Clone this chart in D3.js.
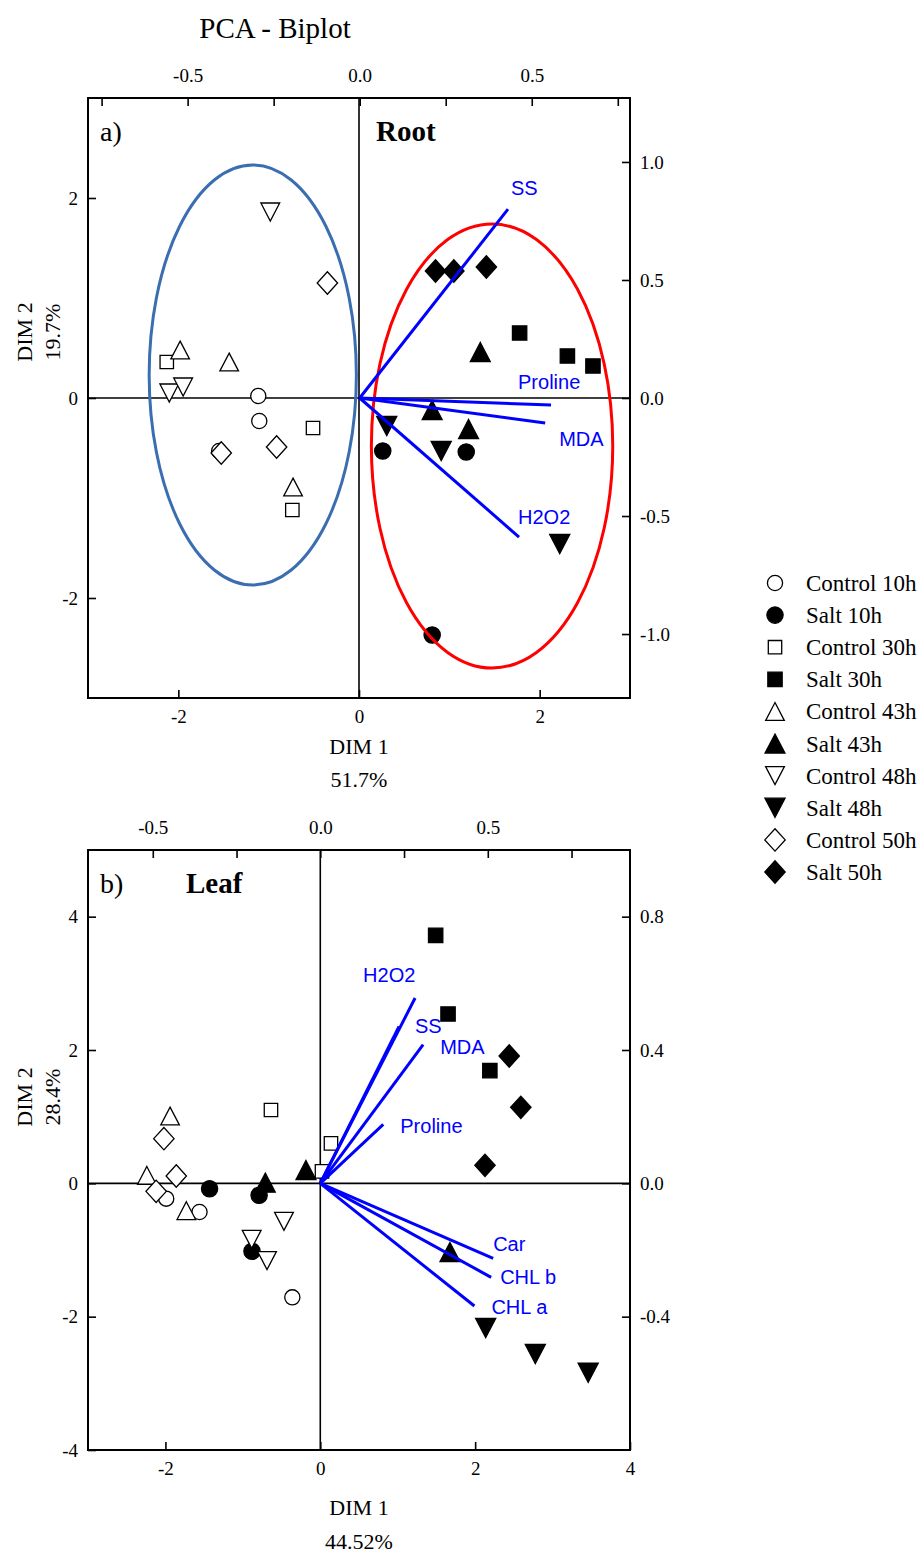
<!DOCTYPE html>
<html>
<head>
<meta charset="utf-8">
<script src="https://cdn.jsdelivr.net/npm/d3@7"></script>
<style>
  body { margin: 0; background: #fff; }
  svg { display: block; }
</style>
</head>
<body>
<svg id="chart" width="921" height="1554"></svg>
<script>
// ---- Groups (legend order) ----
const groupNames = ["Control 10h", "Salt 10h", "Control 30h", "Salt 30h", "Control 43h",
                    "Salt 43h", "Control 48h", "Salt 48h", "Control 50h", "Salt 50h"];
const groupShapes = ["circle", "circle", "square", "square", "triangle",
                     "triangle", "triangleDown", "triangleDown", "diamond", "diamond"];
const groupFilled = [false, true, false, true, false, true, false, true, false, true];

// ---- Root PCA scores: three replicates per group, in legend order ----
const rootDim1 = [
  -1.115, -1.104, -1.548,   0.263, 1.187, 0.810,
  -2.128, -0.509, -0.738,   1.778, 2.307, 2.590,
  -1.980, -1.437, -0.730,   1.343, 0.810, 1.213,
  -0.982, -2.100, -1.947,   0.307, 0.910, 2.222,
  -0.350, -1.525, -0.912,   0.847, 1.050, 1.410
];
const rootDim2 = [
   0.02, -0.23, -0.53,  -0.53, -0.54, -2.37,
   0.36, -0.30, -1.12,   0.65,  0.42,  0.32,
   0.48,  0.36, -0.89,   0.46, -0.12, -0.31,
   1.86,  0.05,  0.11,  -0.28, -0.53, -1.46,
   1.15, -0.55, -0.49,   1.27,  1.27,  1.31
];

// ---- Leaf PCA scores ----
const leafDim1 = [
  -1.990, -1.560, -0.361,  -1.430, -0.790, -0.882,
  -0.637,  0.138,  0.022,   1.490,  1.650,  2.190,
  -1.940, -2.240, -1.730,  -0.710, -0.185,  1.675,
  -0.469, -0.886, -0.688,   2.136,  2.777,  3.460,
  -2.020, -1.860, -2.120,   2.440,  2.590,  2.127
];
const leafDim2 = [
  -0.23, -0.43, -1.71,  -0.08, -0.18, -1.02,
   1.10,  0.60,  0.18,   3.72,  2.54,  1.69,
   1.01,  0.12, -0.41,   0.01,  0.20, -1.03,
  -0.57, -0.84, -1.16,  -2.17, -2.56, -2.84,
   0.67,  0.11, -0.12,   1.91,  1.14,  0.27
];

// ---- Variable loadings ----
const rootVars  = ["SS", "Proline", "MDA", "H2O2"];
const rootLoad1 = [0.431, 0.556, 0.539, 0.463];
const rootLoad2 = [0.800, -0.030, -0.106, -0.589];

const leafVars  = ["H2O2", "SS", "MDA", "Proline", "Car", "CHL b", "CHL a"];
const leafLoad1 = [0.283, 0.235, 0.307, 0.188, 0.516, 0.510, 0.460];
const leafLoad2 = [0.556, 0.471, 0.416, 0.177, -0.225, -0.282, -0.368];

// ---- Group ellipses on the root scores (control, salt) ----
const rootEllipseCx = [-1.176, 1.473];
const rootEllipseCy = [0.23, -0.48];
const rootEllipseRx = [1.147, 1.336];
const rootEllipseRy = [2.10, 2.22];

// ---- Axis ticks ----
const rootScoreXTicks = [-2, 0, 2];
const rootScoreYTicks = [-2, 0, 2];
const rootLoadXTicks  = [-0.75, -0.5, -0.25, 0, 0.25, 0.5, 0.75];
const rootLoadXLabels = [-0.5, 0, 0.5];
const rootLoadYTicks  = [-1, -0.5, 0, 0.5, 1];
const leafScoreXTicks = [-2, 0, 2, 4];
const leafScoreYTicks = [-4, -2, 0, 2, 4];
const leafLoadXTicks  = [-0.5, -0.25, 0, 0.25, 0.5, 0.75];
const leafLoadXLabels = [-0.5, 0, 0.5];
const leafLoadYTicks  = [-0.4, 0, 0.4, 0.8];

// ---------------------------------------------------------------
const svg = d3.select("#chart");
const serif = "'Liberation Serif','Times New Roman',Times,serif";
const sans = "'Liberation Sans',Arial,Helvetica,sans-serif";
const arrowBlue = "#0000ff";

// plain hyphen for negative tick values
const fmtInt = d => d3.format("d")(d).replace("\u2212", "-");
const fmtOne = d => d3.format(".1f")(d).replace("\u2212", "-");

function markerPath(shape, filled) {
  const p = d3.path();
  const k = filled ? 1.07 : 1;
  if (shape === "circle") {
    p.arc(0, 0, 7.6 * k, 0, 2 * Math.PI);
  } else if (shape === "square") {
    const s = 6.7 * k;
    p.rect(-s, -s, 2 * s, 2 * s);
  } else if (shape === "triangle") {
    const w = 9.3 * k, h = 8.9 * k;
    p.moveTo(0, -h); p.lineTo(w, h); p.lineTo(-w, h); p.closePath();
  } else if (shape === "triangleDown") {
    const w = 9.4 * k, h = 9.0 * k;
    p.moveTo(-w, -h); p.lineTo(w, -h); p.lineTo(0, h); p.closePath();
  } else {
    const w = 10.2, h = 11.2;
    p.moveTo(0, -h); p.lineTo(w, 0); p.lineTo(0, h); p.lineTo(-w, 0); p.closePath();
  }
  return p.toString();
}

function styleAxis(g) {
  g.select(".domain").remove();
  g.selectAll(".tick line").attr("stroke", "#000").attr("stroke-width", 1.6);
  g.selectAll(".tick text")
    .attr("font-family", serif).attr("font-size", 19).attr("fill", "#000");
}

function drawPanel(cfg) {
  const left = 88, width = 542, height = 600, top = cfg.top;
  const x = d3.scaleLinear().domain(cfg.xDomain).range([left, left + width]);
  const y = d3.scaleLinear().domain(cfg.yDomain).range([top + height, top]);
  const xl = d3.scaleLinear().domain(cfg.loadXDomain).range([left, left + width]);
  const yl = d3.scaleLinear().domain(cfg.loadYDomain).range([top + height, top]);

  const g = svg.append("g");

  // axes with inward ticks
  g.append("g").attr("transform", `translate(0,${top + height})`)
    .call(d3.axisBottom(x).tickValues(cfg.xTicks).tickSize(-8).tickPadding(12).tickFormat(fmtInt))
    .call(styleAxis);
  g.append("g").attr("transform", `translate(${left},0)`)
    .call(d3.axisLeft(y).tickValues(cfg.yTicks).tickSize(-8).tickPadding(10).tickFormat(fmtInt))
    .call(styleAxis);
  g.append("g").attr("transform", `translate(0,${top})`)
    .call(d3.axisTop(xl).tickValues(cfg.loadXTicks).tickSize(-8).tickPadding(cfg.topPad)
      .tickFormat(d => cfg.loadXLabels.some(v => Math.abs(v - d) < 1e-9) ? fmtOne(d) : ""))
    .call(styleAxis);
  g.append("g").attr("transform", `translate(${left + width},0)`)
    .call(d3.axisRight(yl).tickValues(cfg.loadYTicks).tickSize(-8).tickPadding(10).tickFormat(fmtOne))
    .call(styleAxis);

  // zero lines
  g.append("line").attr("x1", x(0)).attr("x2", x(0)).attr("y1", top).attr("y2", top + height)
    .attr("stroke", "#000").attr("stroke-width", 1.6);
  g.append("line").attr("x1", left).attr("x2", left + width).attr("y1", y(0)).attr("y2", y(0))
    .attr("stroke", "#000").attr("stroke-width", 1.6);

  // score points
  const pts = cfg.dim1.map((d, i) => ({ x: d, y: cfg.dim2[i], grp: Math.floor(i / 3) }));
  g.append("g").selectAll("path").data(pts).join("path")
    .attr("transform", d => `translate(${x(d.x)},${y(d.y)})`)
    .attr("d", d => markerPath(groupShapes[d.grp], groupFilled[d.grp]))
    .attr("fill", d => groupFilled[d.grp] ? "#000" : "#fff")
    .attr("stroke", "#000").attr("stroke-width", 1.3);

  // group ellipses
  if (cfg.ellipses) {
    g.append("g").selectAll("ellipse").data(cfg.ellipses.cx).join("ellipse")
      .attr("cx", d => x(d))
      .attr("cy", (d, i) => y(cfg.ellipses.cy[i]))
      .attr("rx", (d, i) => x(cfg.ellipses.rx[i]) - x(0))
      .attr("ry", (d, i) => y(0) - y(cfg.ellipses.ry[i]))
      .attr("fill", "none")
      .attr("stroke", (d, i) => cfg.ellipses.colors[i])
      .attr("stroke-width", 3);
  }

  // loading vectors
  const vars = cfg.vars.map((v, i) => ({ name: v, lx: cfg.load1[i], ly: cfg.load2[i], off: cfg.labelOffsets[i] }));
  g.append("g").selectAll("line").data(vars).join("line")
    .attr("x1", xl(0)).attr("y1", yl(0))
    .attr("x2", d => xl(d.lx)).attr("y2", d => yl(d.ly))
    .attr("stroke", arrowBlue).attr("stroke-width", 3);
  g.append("g").selectAll("text").data(vars).join("text")
    .attr("x", d => xl(d.lx) + d.off[0])
    .attr("y", d => yl(d.ly) + d.off[1])
    .attr("text-anchor", "start")
    .attr("font-family", sans).attr("font-size", 20).attr("fill", arrowBlue)
    .text(d => d.name);

  // frame
  g.append("rect").attr("x", left).attr("y", top).attr("width", width).attr("height", height)
    .attr("fill", "none").attr("stroke", "#000").attr("stroke-width", 2);

  // panel captions
  g.append("text").attr("x", 100).attr("y", top + 43)
    .attr("font-family", serif).attr("font-size", 28).text(cfg.letter);
  g.append("text").attr("x", cfg.tissueX).attr("y", top + 43)
    .attr("font-family", serif).attr("font-size", 29).attr("font-weight", "bold").text(cfg.tissue);

  // axis titles, centred under the plot area
  const cx = left + width / 2;
  g.append("text").attr("x", cx).attr("y", top + height + cfg.dimGap).attr("text-anchor", "middle")
    .attr("font-family", serif).attr("font-size", 22).text("DIM 1");
  g.append("text").attr("x", cx).attr("y", top + height + cfg.pctGap).attr("text-anchor", "middle")
    .attr("font-family", serif).attr("font-size", 22).text(cfg.pct1);
  g.append("text").attr("transform", `translate(32,${cfg.yTitleY}) rotate(-90)`).attr("text-anchor", "middle")
    .attr("font-family", serif).attr("font-size", 22).text("DIM 2");
  g.append("text").attr("transform", `translate(60,${cfg.yTitleY}) rotate(-90)`).attr("text-anchor", "middle")
    .attr("font-family", serif).attr("font-size", 22).text(cfg.pct2);
}

// title
svg.append("text").attr("x", 275).attr("y", 38).attr("text-anchor", "middle")
  .attr("font-family", serif).attr("font-size", 29).text("PCA - Biplot");

drawPanel({
  top: 98, xDomain: [-3, 3], yDomain: [-3, 3],
  loadXDomain: [-0.7895, 0.7855], loadYDomain: [-1.271, 1.271],
  xTicks: rootScoreXTicks, yTicks: rootScoreYTicks,
  loadXTicks: rootLoadXTicks, loadXLabels: rootLoadXLabels, loadYTicks: rootLoadYTicks,
  topPad: 16,
  dim1: rootDim1, dim2: rootDim2,
  ellipses: { cx: rootEllipseCx, cy: rootEllipseCy, rx: rootEllipseRx, ry: rootEllipseRy,
              colors: ["#3b6eb0", "#ff0000"] },
  vars: rootVars, load1: rootLoad1, load2: rootLoad2,
  labelOffsets: [[3, -14], [-33, -16], [14, 23], [-1, -13]],
  letter: "a)", tissue: "Root", tissueX: 376,
  pct1: "51.7%", pct2: "19.7%", dimGap: 56, pctGap: 89, yTitleY: 332
});

drawPanel({
  top: 850, xDomain: [-3, 4], yDomain: [-4, 5],
  loadXDomain: [-0.6934, 0.9245], loadYDomain: [-0.8, 1.0],
  xTicks: leafScoreXTicks, yTicks: leafScoreYTicks,
  loadXTicks: leafLoadXTicks, loadXLabels: leafLoadXLabels, loadYTicks: leafLoadYTicks,
  topPad: 16,
  dim1: leafDim1, dim2: leafDim2,
  ellipses: null,
  vars: leafVars, load1: leafLoad1, load2: leafLoad2,
  labelOffsets: [[-52, -16], [16, 7], [17, 9], [17, 9], [0, -7], [9, 7], [17, 8]],
  letter: "b)", tissue: "Leaf", tissueX: 186,
  pct1: "44.52%", pct2: "28.4%", dimGap: 65, pctGap: 99, yTitleY: 1097
});

// legend
const legend = svg.append("g");
const legendRows = groupNames.map((name, i) => ({ name, i }));
const ly = d3.scalePoint().domain(d3.range(groupNames.length)).range([583, 872]);
legend.selectAll("path").data(legendRows).join("path")
  .attr("transform", d => `translate(775,${ly(d.i)})`)
  .attr("d", d => markerPath(groupShapes[d.i], groupFilled[d.i]))
  .attr("fill", d => groupFilled[d.i] ? "#000" : "#fff")
  .attr("stroke", "#000").attr("stroke-width", 1.3);
legend.selectAll("text").data(legendRows).join("text")
  .attr("x", 806).attr("y", d => ly(d.i) + 8)
  .attr("font-family", serif).attr("font-size", 23)
  .text(d => d.name);
</script>
</body>
</html>
